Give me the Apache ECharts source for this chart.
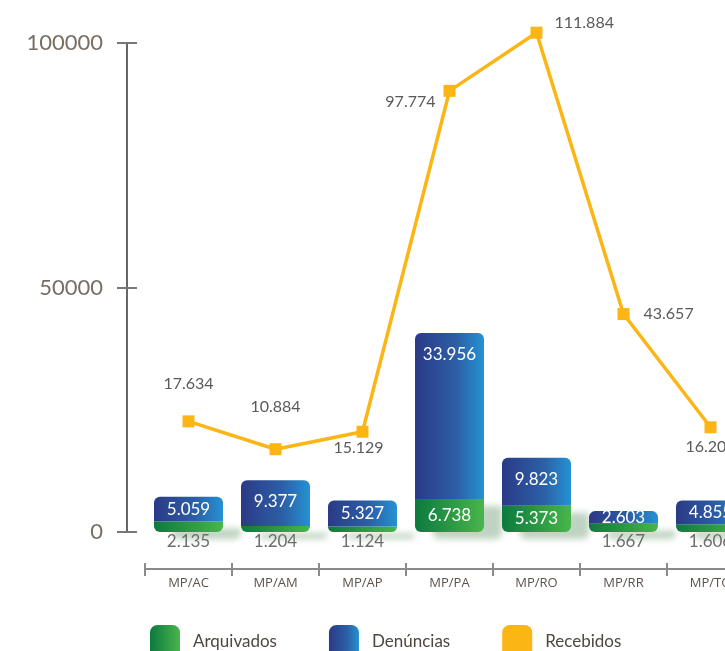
<!DOCTYPE html>
<html>
<head>
<meta charset="utf-8">
<script src="https://cdn.jsdelivr.net/npm/echarts@6/dist/echarts.min.js"></script>
<style>html,body{margin:0;padding:0;background:#fff;}#c{width:725px;height:651px;}</style>
</head>
<body>
<div id="c"></div>
<script>
const categories = ['MP/AC', 'MP/AM', 'MP/AP', 'MP/PA', 'MP/RO', 'MP/RR', 'MP/TO'];
const arquivados = [2135, 1204, 1124, 6738, 5373, 1667, 1606];
const denuncias = [5059, 9377, 5327, 33956, 9823, 2603, 4855];
const recebidos = [17634, 10884, 15129, 97774, 111884, 43657, 16200];
const yTicks = [0, 50000, 100000];

// label placement for the line points (style only)
const recebidosLabelStyle = [
  { position: 'top', distance: 24, offset: [0, 0] },
  { position: 'top', distance: 28, offset: [0, 0] },
  { position: 'bottom', distance: 2, offset: [-4, 0] },
  { position: 'left', distance: 8, offset: [0, 11] },
  { position: 'right', distance: 12, offset: [0, -10] },
  { position: 'right', distance: 14, offset: [0, 0] },
  { position: 'bottom', distance: 6, offset: [0, 0] }
];

const fmt = v => String(v).replace(/\B(?=(\d{3})+(?!\d))/g, '.');
const labelFmt = p => fmt(p.value);

const greenGrad = { type: 'linear', x: 0, y: 0, x2: 1, y2: 0, colorStops: [
  { offset: 0, color: '#0c7a3e' }, { offset: 1, color: '#48b54b' } ] };
const blueGrad = { type: 'linear', x: 0, y: 0, x2: 1, y2: 0, colorStops: [
  { offset: 0, color: '#2b3a86' }, { offset: 0.6, color: '#2c5fa6' }, { offset: 1, color: '#2592d2' } ] };
const yellow = '#fbb514';
const numFont = 'Lato';

const chart = echarts.init(document.getElementById('c'), null, { renderer: 'canvas' });

const greenData = arquivados.map(v => ({
  value: v,
  label: v > 5000
    ? { show: true, position: 'inside', color: '#ffffff', fontSize: 17, fontFamily: numFont, formatter: labelFmt }
    : { show: true, position: 'bottom', distance: 1, color: '#6d6d6d', fontSize: 17, fontFamily: numFont, formatter: labelFmt }
}));
const blueData = denuncias.map(v => ({
  value: v,
  label: v > 6000
    ? { show: true, position: 'insideTop', distance: 13, color: '#ffffff', fontSize: 17, fontFamily: numFont, formatter: labelFmt }
    : { show: true, position: 'inside', color: '#ffffff', fontSize: 17, fontFamily: numFont, formatter: labelFmt }
}));
const lineData = recebidos.map((v, i) => ({
  value: v,
  label: Object.assign({ show: true, color: '#5a5a5a', fontSize: 16, fontFamily: numFont, formatter: labelFmt }, recebidosLabelStyle[i])
}));

const option = {
  animation: false,
  backgroundColor: '#ffffff',
  grid: { left: 145, width: 609, top: 43, bottom: 119, containLabel: false, outerBoundsMode: 'none' },
  legend: {
    left: 145, top: 620,
    itemWidth: 30, itemHeight: 34, itemGap: 52,
    textStyle: { fontSize: 17, color: '#4f4640', fontFamily: 'Lato', padding: [0, 0, 0, 8] },
    data: [
      { name: 'Arquivados', icon: 'roundRect', itemStyle: { color: greenGrad } },
      { name: 'Denúncias', icon: 'roundRect', itemStyle: { color: blueGrad } },
      { name: 'Recebidos', icon: 'roundRect', itemStyle: { color: yellow } }
    ]
  },
  xAxis: [
    {
      type: 'category', data: categories, offset: 37, position: 'bottom',
      axisLine: { show: true, onZero: false, lineStyle: { color: '#8a8a8a', width: 2 } },
      axisTick: { show: true, length: 7, lineStyle: { color: '#8a8a8a', width: 2 } },
      axisLabel: { margin: 8, fontSize: 13, color: '#5d524a', fontFamily: 'Open Sans' }
    },
    {
      type: 'category', data: categories, offset: 37, position: 'bottom',
      axisLine: { show: false, onZero: false },
      axisTick: { show: true, inside: true, length: 6, lineStyle: { color: '#8a8a8a', width: 2 } },
      axisLabel: { show: false }
    }
  ],
  yAxis: [
    {
      type: 'value', position: 'left', min: yTicks[0], max: yTicks[yTicks.length - 1], interval: yTicks[1] - yTicks[0], offset: 18,
      axisLine: { show: true, onZero: false, lineStyle: { color: '#666666', width: 2 } },
      axisTick: { show: true, length: 10, lineStyle: { color: '#777777', width: 2 } },
      axisLabel: { margin: 24, fontSize: 22, color: '#7a6e64', fontFamily: numFont, formatter: v => String(v) },
      splitLine: { show: false }
    },
    {
      type: 'value', position: 'right', min: -9190, max: 109384, show: false, splitLine: { show: false },
      axisLine: { onZero: false }
    },
    {
      type: 'value', position: 'left', min: yTicks[0], max: yTicks[yTicks.length - 1], interval: yTicks[1] - yTicks[0], offset: 18,
      axisLine: { show: false, onZero: false },
      axisTick: { show: true, inside: true, length: 10, lineStyle: { color: '#777777', width: 2 } },
      axisLabel: { show: false },
      splitLine: { show: false }
    }
  ],
  series: [
    {
      name: 'Arquivados', type: 'bar', stack: 'total', barWidth: 69, data: greenData,
      itemStyle: { color: greenGrad, borderRadius: [0, 0, 6, 6],
        shadowColor: 'rgba(40,110,50,0.3)', shadowBlur: 6, shadowOffsetX: 18, shadowOffsetY: 7 }
    },
    {
      name: 'Denúncias', type: 'bar', stack: 'total', barWidth: 69, data: blueData,
      itemStyle: { color: blueGrad, borderRadius: [6, 6, 0, 0] }
    },
    {
      name: 'Recebidos', type: 'line', yAxisIndex: 1, data: lineData, clip: false,
      symbol: 'rect', symbolSize: 12,
      lineStyle: { color: yellow, width: 3.5 },
      itemStyle: { color: yellow }
    }
  ]
};
chart.setOption(option);
</script>
</body>
</html>
